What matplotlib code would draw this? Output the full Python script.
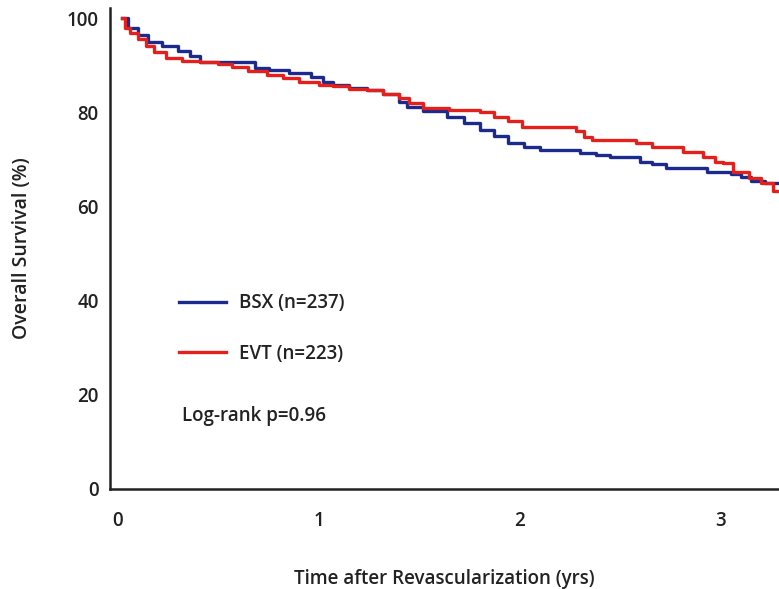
import matplotlib
matplotlib.use("Agg")
import matplotlib.pyplot as plt

# Kaplan-Meier curves (years, % surviving)
bsx_t = [0.02, 0.05, 0.10, 0.15, 0.22, 0.30, 0.36, 0.41, 0.68, 0.75, 0.85, 0.96,
         1.02, 1.07, 1.15, 1.24, 1.32, 1.40, 1.44, 1.52, 1.64, 1.72, 1.80, 1.87,
         1.94, 2.02, 2.10, 2.30, 2.38, 2.45, 2.60, 2.66, 2.73, 2.93, 3.05, 3.10,
         3.15, 3.22, 3.30]
bsx_s = [100, 98.0, 96.5, 95.0, 94.0, 93.0, 92.0, 90.7, 89.5, 89.0, 88.3, 87.5,
         86.5, 85.8, 85.2, 84.7, 83.8, 82.2, 81.1, 80.3, 79.0, 77.8, 76.2, 75.0,
         73.5, 72.6, 72.0, 71.3, 71.0, 70.5, 69.5, 69.0, 68.2, 67.3, 67.0, 66.2,
         65.5, 65.0, 64.3]

evt_t = [0.02, 0.035, 0.06, 0.10, 0.14, 0.18, 0.24, 0.32, 0.41, 0.50, 0.57, 0.65,
         0.74, 0.82, 0.90, 1.00, 1.07, 1.15, 1.24, 1.32, 1.40, 1.45, 1.52, 1.65,
         1.80, 1.87, 1.94, 2.01, 2.28, 2.32, 2.36, 2.58, 2.66, 2.81, 2.91, 2.97,
         3.01, 3.06, 3.14, 3.20, 3.26, 3.30]
evt_s = [100, 98.0, 96.8, 95.5, 94.0, 92.8, 91.5, 91.0, 90.7, 90.2, 89.6, 88.8,
         87.9, 87.2, 86.4, 85.8, 85.6, 85.0, 84.7, 83.8, 83.0, 82.0, 80.9, 80.5,
         80.0, 79.0, 78.2, 76.9, 76.0, 74.8, 74.1, 73.5, 72.6, 71.5, 70.5, 69.5,
         69.2, 67.3, 66.0, 65.0, 63.2, 63.0]

labels = ["BSX (n=237)", "EVT (n=223)"]
colors = ["#1b2a8c", "#e3201c"]
x_ticks = [0, 1, 2, 3]
y_ticks = [0, 20, 40, 60, 80, 100]

plt.rcParams['font.family'] = ['Open Sans', 'DejaVu Sans']

fig = plt.figure(figsize=(7.79, 5.89), dpi=100)
ax = fig.add_axes([0.141, 0.170, 0.859, 0.8166])

ax.step(bsx_t, bsx_s, where='post', color=colors[0], lw=2.4, label=labels[0])
ax.step(evt_t, evt_s, where='post', color=colors[1], lw=2.4, label=labels[1])

ax.set_xlim(-0.04, 3.29)
ax.set_ylim(0, 102.2)
ax.set_xticks(x_ticks)
ax.set_yticks(y_ticks)
ax.tick_params(length=0, labelsize=13.5, colors='#222222')
ax.tick_params(axis='y', pad=8)
ax.tick_params(axis='x', pad=16)
for lab in ax.get_xticklabels() + ax.get_yticklabels():
    lab.set_fontweight('semibold')

for s in ['top', 'right']:
    ax.spines[s].set_visible(False)
for s in ['left', 'bottom']:
    ax.spines[s].set_linewidth(1.8)
    ax.spines[s].set_color('#222222')

ax.set_xlabel("Time after Revascularization (yrs)", fontsize=13.5,
              fontweight='semibold', labelpad=27, color='#222222')
ax.set_ylabel("Overall Survival (%)", fontsize=14, fontweight='semibold',
              labelpad=25, color='#222222')

leg = ax.legend(loc='upper left', bbox_to_anchor=(0.090, 0.426), frameon=False,
                borderpad=0, handlelength=2.5, handletextpad=0.65,
                labelspacing=1.62, fontsize=13.5)
for t in leg.get_texts():
    t.set_fontweight('semibold')
    t.set_color('#222222')

ax.text(0.108, 0.152, "Log-rank p=0.96", transform=ax.transAxes, fontsize=13.5,
        fontweight='semibold', va='center', color='#222222')

fig.savefig("out.png", dpi=100)
